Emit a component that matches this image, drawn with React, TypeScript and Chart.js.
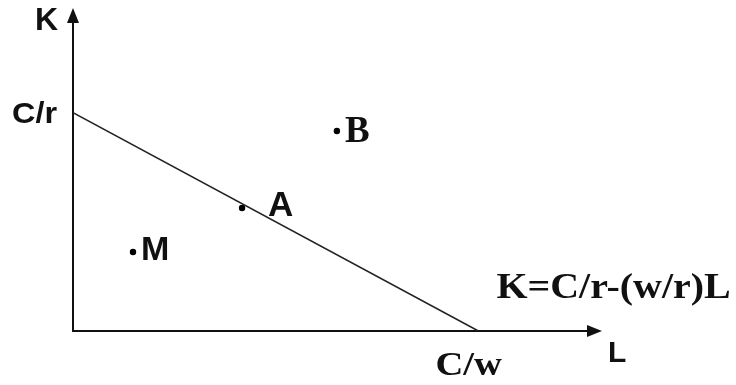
import React, { useEffect, useRef } from "react";
import { Chart, registerables } from "chart.js";

Chart.register(...registerables);

// Axis extents (units of L and K)
const L_MAX = 13;
const K_MAX = 14.7;
// Budget line intercepts: C/w on L axis, C/r on K axis
const C_OVER_W = 10;
const C_OVER_R = 10;

// Labelled bundles
const pointNames = ["M", "A", "B"];
const pointL = [1.48, 4.17, 6.51];
const pointK = [3.62, 5.63, 9.16];

// Axis / line labels
const axisLabelK = "K";
const axisLabelL = "L";
const interceptLabelK = "C/r";
const interceptLabelL = "C/w";
const equationLabel = "K=C/r-(w/r)L";

const TEXT = "#111";
const SANS = "'Liberation Sans', Arial, sans-serif";
const SERIF = "'Liberation Serif', 'Times New Roman', serif";

function drawText(
  ctx: CanvasRenderingContext2D,
  text: string,
  x: number,
  y: number,
  font: string,
  sx = 1,
  align: CanvasTextAlign = "left"
) {
  ctx.save();
  ctx.font = font;
  ctx.fillStyle = TEXT;
  ctx.textBaseline = "alphabetic";
  ctx.textAlign = align;
  ctx.translate(x, y);
  ctx.scale(sx, 1);
  ctx.fillText(text, 0, 0);
  ctx.restore();
}

const diagramPlugin = {
  id: "diagram",
  beforeDatasetsDraw(chart: any) {
    const ctx: CanvasRenderingContext2D = chart.ctx;
    const xs = chart.scales.x;
    const ys = chart.scales.y;
    const x0 = xs.getPixelForValue(0);
    const y0 = ys.getPixelForValue(0);
    const xEnd = xs.getPixelForValue(L_MAX) + 2;
    const yEnd = ys.getPixelForValue(K_MAX) - 2;
    ctx.save();
    ctx.strokeStyle = "#111";
    ctx.fillStyle = "#111";
    ctx.lineWidth = 2;
    ctx.beginPath();
    ctx.moveTo(x0, yEnd + 10);
    ctx.lineTo(x0, y0);
    ctx.lineTo(xEnd - 10, y0);
    ctx.stroke();
    // arrowheads
    ctx.beginPath();
    ctx.moveTo(x0, yEnd);
    ctx.lineTo(x0 - 6, yEnd + 15);
    ctx.lineTo(x0 + 6, yEnd + 15);
    ctx.closePath();
    ctx.fill();
    ctx.beginPath();
    ctx.moveTo(xEnd, y0);
    ctx.lineTo(xEnd - 15, y0 - 6);
    ctx.lineTo(xEnd - 15, y0 + 6);
    ctx.closePath();
    ctx.fill();
    ctx.restore();
  },
  afterDatasetsDraw(chart: any) {
    const ctx: CanvasRenderingContext2D = chart.ctx;
    const xs = chart.scales.x;
    const ys = chart.scales.y;
    const x0 = xs.getPixelForValue(0);
    const y0 = ys.getPixelForValue(0);
    const xEnd = xs.getPixelForValue(L_MAX);
    const yEnd = ys.getPixelForValue(K_MAX);

    // axis titles
    drawText(ctx, axisLabelK, x0 - 38, yEnd + 20, `bold 32px ${SANS}`);
    drawText(ctx, axisLabelL, xEnd + 8, y0 + 31, `bold 30px ${SANS}`);

    // intercepts
    const yCR = ys.getPixelForValue(C_OVER_R);
    drawText(ctx, interceptLabelK, x0 - 61, yCR + 10, `bold 30px ${SANS}`, 1.08);
    const xCW = xs.getPixelForValue(C_OVER_W);
    drawText(ctx, interceptLabelL, xCW - 43, y0 + 44, `bold 33px ${SERIF}`, 1.17);

    // equation
    drawText(ctx, equationLabel, xCW + 18, y0 - 33, `bold 36px ${SERIF}`, 1.11);

    // point labels
    const meta = chart.getDatasetMeta(1);
    const offsets = [
      { dx: 8, dy: 8, font: `bold 34px ${SANS}` },
      { dx: 26, dy: 8, font: `bold 35px ${SANS}` },
      { dx: 8, dy: 11, font: `bold 37px ${SERIF}` },
    ];
    meta.data.forEach((el: any, i: number) => {
      const o = offsets[i];
      drawText(ctx, pointNames[i], el.x + o.dx, el.y + o.dy, o.font);
    });
  },
};

export default function App() {
  const ref = useRef<HTMLCanvasElement | null>(null);
  useEffect(() => {
    if (!ref.current) return;
    const chart = new Chart(ref.current, {
      type: "scatter",
      data: {
        datasets: [
          {
            label: "isocost",
            data: [
              { x: 0, y: C_OVER_R },
              { x: C_OVER_W, y: 0 },
            ],
            showLine: true,
            borderColor: "#222",
            borderWidth: 1.6,
            pointRadius: 0,
            fill: false,
          },
          {
            label: "bundles",
            data: pointL.map((l, i) => ({ x: l, y: pointK[i] })),
            showLine: false,
            pointRadius: 3.2,
            pointBackgroundColor: "#000",
            pointBorderWidth: 0,
          },
        ],
      },
      options: {
        responsive: false,
        animation: false,
        devicePixelRatio: 1,
        layout: { padding: { left: 73, right: 136, top: 10, bottom: 54 } },
        plugins: { legend: { display: false }, tooltip: { enabled: false } },
        scales: {
          x: { type: "linear", min: 0, max: L_MAX, display: false },
          y: { type: "linear", min: 0, max: K_MAX, display: false },
        },
      },
      plugins: [diagramPlugin],
    });
    return () => chart.destroy();
  }, []);
  return (
    <div style={{ position: "absolute", left: 0, top: 0, width: 736, height: 385, background: "#fff" }}>
      <canvas ref={ref} width={736} height={385} />
    </div>
  );
}
